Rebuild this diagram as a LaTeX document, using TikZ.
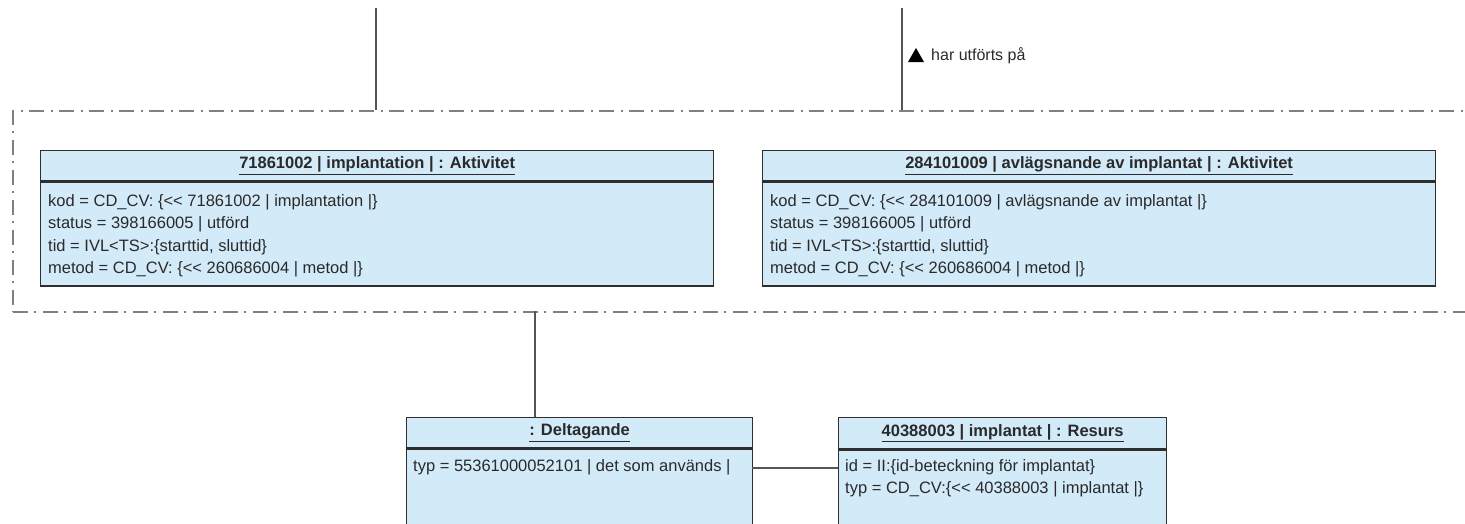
\documentclass[tikz,border=0pt]{standalone}
\usepackage{fontspec}
\setmainfont{Liberation Sans}
\definecolor{objfill}{HTML}{D3EAF9}
\definecolor{objline}{HTML}{2E2E2E}
\definecolor{txt}{HTML}{2A2A2A}
\definecolor{wire}{HTML}{555555}
\definecolor{fragline}{HTML}{808080}
\newcommand{\dlt}{<{}<}
\tikzset{
  objhead/.style={draw=objline, line width=1.3pt, fill=objfill, anchor=north west,
    inner sep=0pt, text=txt, font=\fontsize{16.5}{20}\selectfont\bfseries},
  objbody/.style={draw=objline, line width=1.3pt, fill=objfill, anchor=north west,
    inner sep=0pt},
  attrs/.style={anchor=north west, inner sep=0pt, align=left, text=txt,
    font=\fontsize{16.5}{22.6}\selectfont},
  wirestyle/.style={draw=wire, line width=1.3pt},
  fragment/.style={draw=fragline, line width=1.6pt,
    dash pattern=on 15pt off 6pt on 2pt off 7pt, anchor=north west, inner sep=0pt},
}
\begin{document}
\begin{tikzpicture}[x=1pt,y=-1pt]
\useasboundingbox (0,0) rectangle (1465,523);
\clip (0,0) rectangle (1465,523);

% combined fragment around the two activities
\node[fragment, minimum width=1490pt, minimum height=201pt] (frag) at (12,110) {};

% activity 1
\node[objhead, minimum width=673pt, minimum height=30pt] (a1h) at (40,150)
  {\underline{71861002 | implantation | : Aktivitet}};
\node[objbody, minimum width=673pt, minimum height=104pt] (a1b) at (a1h.south west) {};
\node[attrs] (a1t) at (48,194) {kod = CD\_CV: \{\dlt{} 71861002 | implantation |\}\\
  status = 398166005 | utförd\\
  tid = IVL<TS>:\{starttid, sluttid\}\\
  metod = CD\_CV: \{\dlt{} 260686004 | metod |\}};

% activity 2
\node[objhead, minimum width=673pt, minimum height=30pt] (a2h) at (762,150)
  {\underline{284101009 | avlägsnande av implantat | : Aktivitet}};
\node[objbody, minimum width=673pt, minimum height=104pt] (a2b) at (a2h.south west) {};
\node[attrs] (a2t) at (770,194) {kod = CD\_CV: \{\dlt{} 284101009 | avlägsnande av implantat |\}\\
  status = 398166005 | utförd\\
  tid = IVL<TS>:\{starttid, sluttid\}\\
  metod = CD\_CV: \{\dlt{} 260686004 | metod |\}};

% participation
\node[objhead, minimum width=346pt, minimum height=30pt] (dh) at (406,417)
  {\underline{: Deltagande}};
\node[objbody, minimum width=346pt, minimum height=110pt] (db) at (dh.south west) {};
\node[attrs] (dt) at (413,459) {typ = 55361000052101 | det som används |};

% resource
\node[objhead, minimum width=328pt, minimum height=31pt] (rh) at (838,417)
  {\underline{40388003 | implantat | : Resurs}};
\node[objbody, minimum width=328pt, minimum height=110pt] (rb) at (rh.south west) {};
\node[attrs] (rt) at (845,459) {id = II:\{id-beteckning för implantat\}\\
  typ = CD\_CV:\{\dlt{} 40388003 | implantat |\}};

% connectors
\coordinate (c1) at (376,8);
\coordinate (c2) at (902,8);
\coordinate (c3) at (535,311);
\draw[wirestyle] (c1) -- (c1 |- frag.north);
\draw[wirestyle] (c2) -- (c2 |- frag.north);
\draw[wirestyle] (c3) -- (c3 |- dh.north);
\coordinate (c4) at (752,468);
\draw[wirestyle] (c4) -- (c4 -| rb.west);

% association label with its reading-direction triangle
\node[anchor=west, inner sep=0pt, text=txt, font=\fontsize{16}{18}\selectfont] (lbl) at (931,56) {har utförts på};
\fill[black] ([xshift=-23pt,yshift=-6pt]lbl.west) -- ([xshift=-15pt,yshift=8pt]lbl.west)
  -- ([xshift=-7pt,yshift=-6pt]lbl.west) -- cycle;
\end{tikzpicture}
\end{document}
